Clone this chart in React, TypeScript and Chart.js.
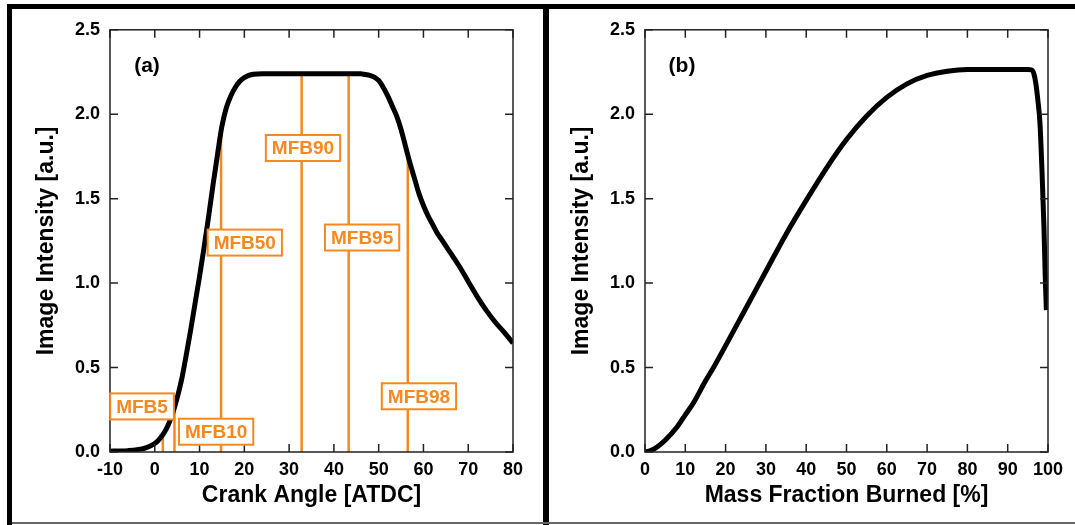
import React, { useEffect, useRef } from "react";
import { Chart, registerables } from "chart.js";

Chart.register(...registerables);

// ---------- Panel (a) data ----------
const crankAngle = [
  -10, -8, -6, -4, -2, 0, 1, 2, 3, 4, 5, 6, 7, 8, 9, 10, 11, 12, 13, 14, 15, 16, 17, 18, 19, 20, 21, 22,
  24, 26, 30, 35, 40, 44, 46,
  47, 48, 49, 50, 51, 52, 53, 54, 55, 56, 57, 58, 59, 60, 61, 62, 63, 64, 65, 66,
  68, 70, 72, 74, 76, 78, 80,
];
const intensityA = [
  0.005, 0.006, 0.008, 0.013, 0.025, 0.05, 0.075, 0.11, 0.16, 0.23, 0.32, 0.43, 0.57, 0.72, 0.88, 1.04, 1.21, 1.39, 1.58, 1.76, 1.93, 2.04, 2.11, 2.16, 2.195, 2.217, 2.23, 2.237,
  2.24, 2.24, 2.24, 2.24, 2.24, 2.24, 2.24,
  2.235, 2.23, 2.22, 2.2, 2.16, 2.11, 2.05, 1.99, 1.91, 1.81, 1.71, 1.62, 1.53, 1.46, 1.4, 1.35, 1.3, 1.26, 1.22, 1.18,
  1.1, 1.01, 0.92, 0.84, 0.77, 0.71, 0.645,
];
const mfbLabels = ["MFB5", "MFB10", "MFB50", "MFB90", "MFB95", "MFB98"];
const mfbAngles = [1.8, 4.4, 14.8, 32.8, 43.3, 56.5];
const mfbTops = [0.1, 0.27, 1.92, 2.24, 2.24, 1.75];
const mfbLabelX = [-2.85, 13.7, 20.1, 33.1, 46.3, 59.0];
const mfbLabelY = [0.27, 0.12, 1.24, 1.8, 1.27, 0.33];
const xTicksA = [-10, 0, 10, 20, 30, 40, 50, 60, 70, 80];

// ---------- Panel (b) data ----------
const massFraction = [
  0, 1, 2, 3, 5, 8, 10, 12, 15, 17,
  20, 25, 30, 35, 40, 45, 50, 55, 60, 65, 70, 75, 80, 85, 90, 95,
  96, 96.5, 97, 97.5, 98, 98.5, 99, 99.3, 99.6,
];
const intensityB = [
  0, 0.005, 0.015, 0.03, 0.07, 0.15, 0.22, 0.29, 0.42, 0.5,
  0.63, 0.85, 1.07, 1.29, 1.49, 1.68, 1.85, 1.99, 2.1, 2.18, 2.23, 2.255, 2.265, 2.265, 2.265, 2.265,
  2.262, 2.24, 2.18, 2.08, 1.95, 1.67, 1.33, 1.05, 0.84,
];
const xTicksB = [0, 10, 20, 30, 40, 50, 60, 70, 80, 90, 100];
const yTicks = [0, 0.5, 1.0, 1.5, 2.0, 2.5];

const FONT = '"Liberation Sans", Arial, Helvetica, sans-serif';
const ORANGE = "#F5891F";
Chart.defaults.font.family = FONT;

const framePlugin = {
  id: "frame",
  afterDatasetsDraw(chart: any, _args: any, opts: any) {
    const { ctx, chartArea } = chart;
    const { left, right, top, bottom } = chartArea;
    const xs = chart.scales.x;
    const ys = chart.scales.y;
    ctx.save();
    ctx.strokeStyle = "#222";
    ctx.lineWidth = 1.5;
    ctx.strokeRect(left, top, right - left, bottom - top);
    ctx.beginPath();
    const tl = 8;
    xs.ticks.forEach((t: any) => {
      const px = xs.getPixelForValue(t.value);
      ctx.moveTo(px, bottom);
      ctx.lineTo(px, bottom - tl);
      ctx.moveTo(px, top);
      ctx.lineTo(px, top + tl);
    });
    ys.ticks.forEach((t: any) => {
      const py = ys.getPixelForValue(t.value);
      ctx.moveTo(left, py);
      ctx.lineTo(left + tl, py);
      ctx.moveTo(right, py);
      ctx.lineTo(right - tl, py);
    });
    ctx.stroke();

    // panel tag
    ctx.fillStyle = "#000";
    ctx.font = `bold 21px ${FONT}`;
    ctx.textAlign = "center";
    ctx.textBaseline = "middle";
    ctx.fillText(opts.tag, left + 37, top + 36);

    // annotation boxes
    if (opts.labels) {
      ctx.font = `bold 19px ${FONT}`;
      opts.labels.forEach((lb: string, i: number) => {
        const cx = xs.getPixelForValue(opts.lx[i]);
        const cy = ys.getPixelForValue(opts.ly[i]);
        const w = ctx.measureText(lb).width + 12;
        const h = 26;
        ctx.fillStyle = "#fff";
        ctx.fillRect(cx - w / 2, cy - h / 2, w, h);
        ctx.strokeStyle = ORANGE;
        ctx.lineWidth = 2;
        ctx.strokeRect(cx - w / 2, cy - h / 2, w, h);
        ctx.fillStyle = ORANGE;
        ctx.fillText(lb, cx, cy + 1);
      });
    }
    ctx.restore();
  },
};

function makeConfig(opts: {
  datasets: any[];
  xMin: number;
  xMax: number;
  xTicks: number[];
  xTitle: string;
  padRight: number;
  yWidth: number;
  yTitlePad: number;
  frame: any;
}) {
  return {
    type: "scatter",
    data: { datasets: opts.datasets },
    options: {
      responsive: false,
      animation: false,
      devicePixelRatio: 1,
      layout: { padding: { left: 0, right: opts.padRight, top: 19, bottom: 0 } },
      plugins: {
        legend: { display: false },
        tooltip: { enabled: false },
        frame: opts.frame,
      },
      scales: {
        x: {
          type: "linear",
          min: opts.xMin,
          max: opts.xMax,
          grid: { display: false, drawTicks: false },
          border: { display: false },
          ticks: {
            color: "#000",
            font: { size: 18, weight: "bold" },
            padding: 7,
            maxRotation: 0,
            autoSkip: false,
            callback: (v: number) => String(v),
          },
          afterBuildTicks: (s: any) => {
            s.ticks = opts.xTicks.map((v) => ({ value: v }));
          },
          afterFit: (s: any) => {
            s.height = 70;
          },
          title: {
            display: true,
            text: opts.xTitle,
            color: "#000",
            font: { size: 23, weight: "bold" },
            padding: { top: 0, bottom: 13 },
          },
        },
        y: {
          type: "linear",
          min: 0,
          max: 2.5,
          grid: { display: false, drawTicks: false },
          border: { display: false },
          ticks: {
            color: "#000",
            font: { size: 18, weight: "bold" },
            padding: 10,
            autoSkip: false,
            callback: (v: number) => Number(v).toFixed(1),
          },
          afterBuildTicks: (s: any) => {
            s.ticks = yTicks.map((v) => ({ value: v }));
          },
          afterFit: (s: any) => {
            s.width = opts.yWidth;
          },
          title: {
            display: true,
            text: "Image Intensity [a.u.]",
            color: "#000",
            font: { size: 23, weight: "bold" },
            padding: { top: opts.yTitlePad, bottom: 0 },
          },
        },
      },
    },
    plugins: [framePlugin],
  } as any;
}

function Panel(props: { config: any; left: number; width: number }) {
  const ref = useRef<HTMLCanvasElement | null>(null);
  useEffect(() => {
    if (!ref.current) return;
    const chart = new Chart(ref.current, props.config);
    return () => chart.destroy();
  }, []);
  return (
    <canvas
      ref={ref}
      width={props.width}
      height={513}
      style={{ position: "absolute", left: props.left, top: 9, width: props.width, height: 513, display: "block" }}
    />
  );
}

export default function App() {
  const mfbDatasets = mfbAngles.map((a, i) => ({
    data: [
      { x: a, y: 0 },
      { x: a, y: mfbTops[i] },
    ],
    showLine: true,
    borderColor: ORANGE,
    borderWidth: 2.5,
    pointRadius: 0,
    order: 2,
  }));

  const configA = makeConfig({
    datasets: [
      ...mfbDatasets,
      {
        data: crankAngle.map((x, i) => ({ x, y: intensityA[i] })),
        showLine: true,
        borderColor: "#000",
        borderWidth: 5,
        pointRadius: 0,
        cubicInterpolationMode: "monotone",
        order: 1,
      },
    ],
    xMin: -10,
    xMax: 80,
    xTicks: xTicksA,
    xTitle: "Crank Angle [ATDC]",
    padRight: 30,
    yWidth: 98,
    yTitlePad: 21,
    frame: { tag: "(a)", labels: mfbLabels, lx: mfbLabelX, ly: mfbLabelY },
  });

  const configB = makeConfig({
    datasets: [
      {
        data: massFraction.map((x, i) => ({ x, y: intensityB[i] })),
        showLine: true,
        borderColor: "#000",
        borderWidth: 5,
        pointRadius: 0,
        cubicInterpolationMode: "monotone",
      },
    ],
    xMin: 0,
    xMax: 100,
    xTicks: xTicksB,
    xTitle: "Mass Fraction Burned [%]",
    padRight: 27,
    yWidth: 96,
    yTitlePad: 19,
    frame: { tag: "(b)" },
  });

  return (
    <div style={{ position: "absolute", left: 0, top: 0, width: 1075, height: 525, background: "#fff", overflow: "hidden" }}>
      <Panel config={configA} left={12} width={531} />
      <Panel config={configB} left={549} width={526} />
      <div style={{ position: "absolute", left: 7, top: 4, width: 1068, height: 5, background: "#000" }} />
      <div style={{ position: "absolute", left: 7, top: 4, width: 5, height: 521, background: "#000" }} />
      <div style={{ position: "absolute", left: 543, top: 4, width: 6, height: 521, background: "#000" }} />
      <div style={{ position: "absolute", left: 12, top: 522, width: 1063, height: 2, background: "#666" }} />
    </div>
  );
}
